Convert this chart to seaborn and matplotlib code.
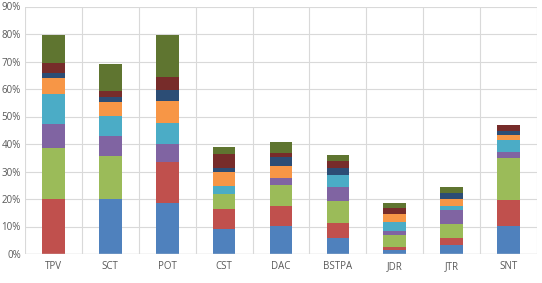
import matplotlib
matplotlib.use("Agg")
import matplotlib.pyplot as plt
import numpy as np
import seaborn as sns
from matplotlib.ticker import PercentFormatter

categories = ['TPV', 'SCT', 'POT', 'CST', 'DAC', 'BSTPA', 'JDR', 'JTR', 'SNT']

# stacked segments, bottom to top (percent)
s1 = [0.0, 20.0, 18.4, 9.0, 10.2, 6.0, 1.4, 3.4, 10.1]
s2 = [20.1, 0.0, 15.2, 7.2, 7.2, 5.1, 1.2, 2.6, 9.5]
s3 = [18.5, 15.8, 0.0, 5.8, 7.7, 8.2, 4.2, 4.9, 15.2]
s4 = [8.8, 7.0, 6.3, 0.0, 2.4, 4.9, 1.5, 5.1, 2.4]
s5 = [10.6, 7.3, 7.9, 2.7, 0.0, 4.6, 3.4, 1.4, 4.1]
s6 = [6.1, 5.3, 8.0, 5.0, 4.6, 0.0, 2.7, 2.5, 1.8]
s7 = [1.8, 1.7, 3.9, 1.7, 3.1, 2.6, 0.0, 2.4, 1.6]
s8 = [3.7, 2.1, 4.6, 4.9, 1.7, 2.5, 2.2, 0.0, 2.3]
s9 = [10.1, 10.0, 15.3, 2.5, 4.0, 2.1, 1.8, 2.2, 0.0]

series = [s1, s2, s3, s4, s5, s6, s7, s8, s9]
colors = ['#4F81BD', '#C0504D', '#9BBB59', '#8064A2', '#4BACC6',
          '#F79646', '#2C4D75', '#772C2A', '#5F7530']

sns.set_style('white')
plt.rcParams['font.family'] = ['Open Sans', 'DejaVu Sans']

fig = plt.figure(figsize=(5.42, 2.83), dpi=100)
ax = fig.add_axes([25 / 542, 29 / 283, 512 / 542, 247.5 / 283])

bottom = np.zeros(len(categories))
for vals, c in zip(series, colors):
    sns.barplot(x=categories, y=vals, bottom=bottom, color=c, width=0.4,
                linewidth=0, saturation=1, ax=ax, zorder=3)
    bottom += np.array(vals)

ax.set_ylim(0, 90)
ax.set_xlim(-0.5, len(categories) - 0.5)
ax.set_yticks(np.arange(0, 91, 10))
ax.yaxis.set_major_formatter(PercentFormatter(decimals=0))
ax.grid(axis='y', color='#D9D9D9', linewidth=0.8, zorder=0)
for i in range(len(categories) + 1):
    ax.axvline(i - 0.5, color='#D9D9D9', linewidth=0.8, zorder=0)
for sp in ax.spines.values():
    sp.set_visible(False)
ax.axhline(0, color='#D9D9D9', linewidth=1, zorder=4)
ax.tick_params(length=0, labelsize=7, colors='#595959', pad=5)
ax.tick_params(axis='y', pad=3)

fig.savefig('out.png', dpi=100)
